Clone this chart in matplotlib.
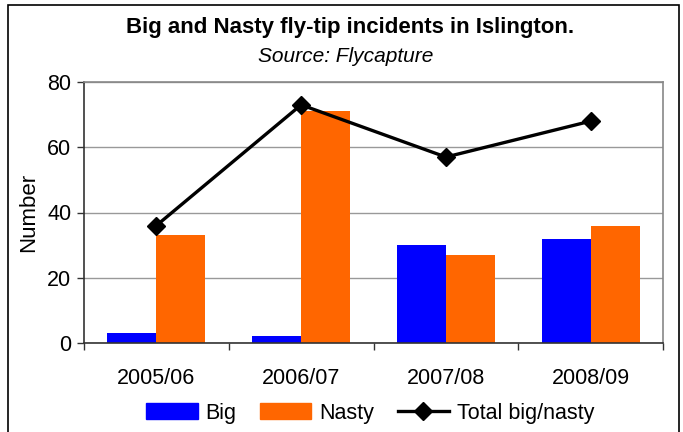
import numpy as np
import matplotlib.pyplot as plt
from matplotlib.patches import Rectangle
from matplotlib.lines import Line2D

plt.rcParams['font.family'] = ['Liberation Sans', 'DejaVu Sans']

years = ["2005/06", "2006/07", "2007/08", "2008/09"]
big = [3, 2, 30, 32]
nasty = [33, 71, 27, 36]
total = [36, 73, 57, 68]

blue = "#0000FF"
orange = "#FF6600"

fig = plt.figure(figsize=(6.83, 4.32), dpi=100)
ax = fig.add_axes([84 / 683, 1 - 343 / 432, (663 - 84) / 683, (343 - 82) / 432])

# outer chart frame
fig.patches.append(Rectangle((8 / 683, -0.05), (679 - 8) / 683, 1 - 5 / 432 + 0.05,
                             transform=fig.transFigure, fill=False,
                             edgecolor="black", linewidth=1.2))

x = np.arange(len(years))
w = 0.338
ax.bar(x - w / 2, big, w, color=blue, zorder=2, label="Big")
ax.bar(x + w / 2, nasty, w, color=orange, zorder=2, label="Nasty")
ax.plot(x, total, color="black", linewidth=2.4, marker="D", markersize=9.5,
        zorder=3, label="Total big/nasty")

ax.set_xlim(-0.5, 3.5)
ax.set_ylim(0, 80)
ax.set_yticks([0, 20, 40, 60, 80])
ax.yaxis.grid(True, color="#999999", linewidth=1, zorder=0)
ax.set_axisbelow(True)

ax.set_xticks(x)
ax.set_xticklabels(years)
ax.set_xticks(np.arange(-0.5, 4, 1), minor=True)
ax.tick_params(axis="x", which="major", length=0, pad=18, labelsize=15.5)
ax.tick_params(axis="x", which="minor", length=5, width=1, color="#333333")
ax.tick_params(axis="y", length=5, width=1, color="#333333", labelsize=15.5, pad=4)

for s in ["top", "right"]:
    ax.spines[s].set_color("#888888")
    ax.spines[s].set_linewidth(1.2)
for s in ["left", "bottom"]:
    ax.spines[s].set_color("#333333")
    ax.spines[s].set_linewidth(1.2)

ax.set_ylabel("Number", fontsize=16, labelpad=6)

fig.text(350 / 683, 1 - 27 / 432, "Big and Nasty fly-tip incidents in Islington.",
         ha="center", va="center", fontsize=16, fontweight="bold")
fig.text(346 / 683, 1 - 57 / 432, "Source: Flycapture",
         ha="center", va="center", fontsize=15, style="italic")

handles = [Rectangle((0, 0), 1, 1, color=blue),
           Rectangle((0, 0), 1, 1, color=orange),
           Line2D([], [], color="black", linewidth=2.4, marker="D", markersize=9.5)]
fig.legend(handles, ["Big", "Nasty", "Total big/nasty"], loc="center",
           bbox_to_anchor=(370 / 683, 1 - 413 / 432), ncol=3, frameon=False,
           fontsize=15.5, handlelength=2.4, handleheight=0.7, columnspacing=1.1,
           handletextpad=0.35)

fig.savefig("out.png", dpi=100)
